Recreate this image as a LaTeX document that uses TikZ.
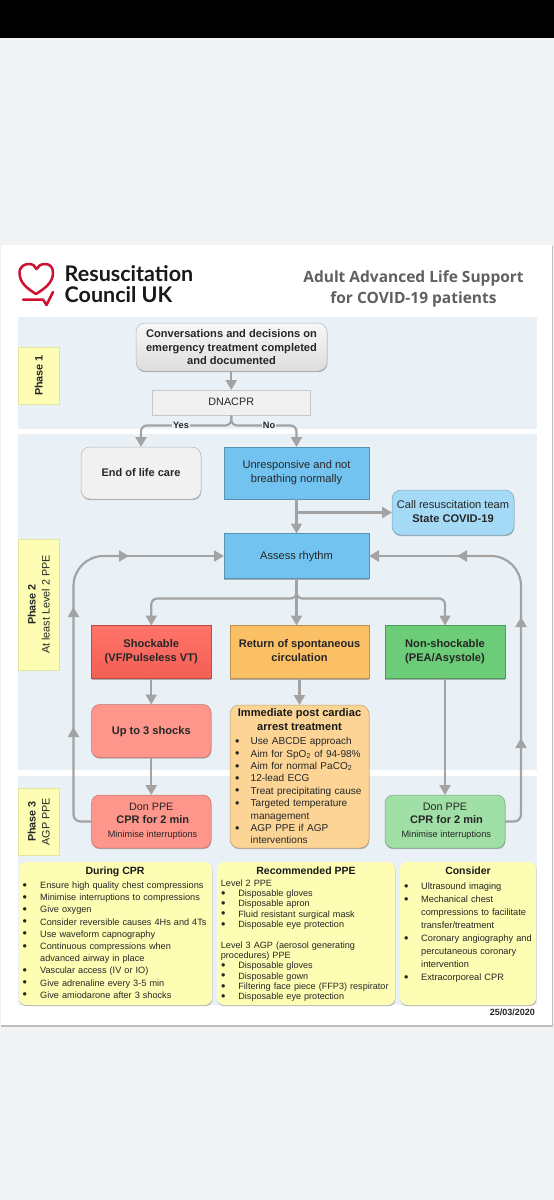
\documentclass[tikz,border=0pt]{standalone}
\usepackage{fontspec}
\setmainfont{Liberation Sans}
\newfontfamily\logofont{Lato}
\newfontfamily\titlefont{Open Sans}
\usetikzlibrary{arrows.meta,shadows,calc,positioning}
\definecolor{pagebg}{HTML}{F1F3F5}
\definecolor{bandblue}{HTML}{EAF1F6}
\definecolor{line}{HTML}{A3A3A3}
\definecolor{rcred}{HTML}{CE1130}
\definecolor{grayt}{HTML}{606060}
\definecolor{noteY}{HTML}{FDFDB4}
\definecolor{greyfill}{HTML}{F1F1F1}
\definecolor{blueA}{HTML}{72C3EF}
\definecolor{blueB}{HTML}{A5DAF7}
\definecolor{redA}{HTML}{FF6459}
\definecolor{redB}{HTML}{FF968C}
\definecolor{orA}{HTML}{FBBF66}
\definecolor{orB}{HTML}{FCD596}
\definecolor{grA}{HTML}{6CCC78}
\definecolor{grB}{HTML}{A0DFA6}
\newcommand{\ft}[1]{\fontsize{#1}{#1}\selectfont}
\newcommand{\fl}[2]{\fontsize{#1}{#2}\selectfont}
\newcommand{\bdot}{\raisebox{-0.7pt}{\fontsize{12.5}{12.5}\selectfont•}}
\newcommand{\bul}[1]{\par\hangindent=18.5pt\hangafter=1\noindent\makebox[18.5pt][l]{\hspace{3pt}\bdot}#1}
\newcommand{\bulw}[1]{\par\hangindent=20pt\hangafter=1\noindent\makebox[20pt][l]{\hspace{2.5pt}\bdot}#1}
\newcommand{\bulp}[1]{\par\hangindent=17.5pt\hangafter=1\noindent\makebox[17.5pt][l]{\hspace{0.3pt}\bdot}#1}
\tikzset{
  x=1pt,y=-1pt,
  wh/.style n args={2}{minimum width=#1pt,minimum height=#2pt},
  shad/.style={drop shadow={shadow xshift=0.4pt,shadow yshift=-1.2pt,fill=black,opacity=.28}},
  base/.style={anchor=north west,inner sep=0pt,outer sep=0pt,align=center,text=black!85},
  strutted/.style={execute at begin node={\rule{0pt}{9pt}},execute at end node={\rule[-3pt]{0pt}{3pt}}},
  sq/.style={base,strutted,shad,draw=#1!75!black,line width=.5pt},
  rnd/.style={base,strutted,shad,rounded corners=8pt,draw=#1!75!black,line width=.5pt},
  phasebox/.style={base,shad,fill=noteY,draw=noteY!90!black,line width=.4pt,rotate=90,anchor=center},
  notebox/.style={base,shad,fill=noteY,rounded corners=7pt,align=left},
  flow/.style={draw=line,line width=2.2pt,rounded corners=6pt},
  arr/.style={flow,-{Triangle[length=10pt,width=11pt]}},
  bigarc/.style={flow,rounded corners=30pt},
  tinylbl/.style={inner sep=0.6pt,fill=bandblue,font=\ft{9.2}\bfseries,text=black!85},
}
\begin{document}
\begin{tikzpicture}
\useasboundingbox (0,0) rectangle (554,1200);
\fill[pagebg] (0,0) rectangle (554,1200);
\fill[black] (0,0) rectangle (554,38);
\fill[black!25] (1,246) rectangle (553,1027);
\fill[white] (1,245) rectangle (552,1025);
% bands
\fill[bandblue] (17.5,317) rectangle (536.5,429);
\fill[bandblue] (17.5,434) rectangle (536.5,770);
\fill[bandblue] (17.5,776) rectangle (536.5,1005);
% logo
\draw[rcred,line width=2.5pt,line join=round,line cap=round]
  (36,294) .. controls (28,289) and (19.5,283) .. (19.5,273)
  .. controls (19.5,266) and (25,264) .. (29,264)
  .. controls (33,264) and (35,266) .. (36.5,269)
  .. controls (38,266) and (41,264) .. (45,264)
  .. controls (50,264) and (53,267) .. (53,273)
  .. controls (53,283) and (44,289) .. (36,294);
\draw[rcred,line width=2.5pt,line cap=round,line join=round]
  (23,299.5) -- (43,299.5) -- (46.5,305) -- (53,292);
\node[anchor=base west,inner sep=0pt,text=black!90] (logoa) at (64.5,281.5) {\logofont\ft{21.5}\bfseries Resuscitation};
\node[anchor=base west,inner sep=0pt,text=black!90] (logob) at (64.5,302.5) {\logofont\ft{21.5}\bfseries Council UK};
\node[anchor=base,inner sep=0pt,text=grayt] (titlea) at (413.5,282) {\titlefont\ft{15.5}\bfseries Adult Advanced Life Support};
\node[anchor=base,inner sep=0pt,text=grayt] (titleb) at (413.5,303) {\titlefont\ft{15.5}\bfseries for COVID-19 patients};
% phase tags
\node[phasebox,wh={57}{40.5},font=\ft{10.8}\bfseries] (ph1) at (38.7,375.5) {Phase 1};
\node[phasebox,wh={131}{40.5},font=\fl{10.8}{14}] (ph2) at (38.7,604.5) {\textbf{Phase 2}\\At least Level 2 PPE};
\node[phasebox,wh={67}{40.5},font=\fl{10.8}{14}] (ph3) at (38.7,821.5) {\textbf{Phase 3}\\AGP PPE};
% nodes
\node[rnd=greyfill,top color=white!97!black,bottom color=greyfill!92!black,wh={191}{48},rounded corners=9pt,font=\fl{11.1}{13.4}\bfseries] (conv) at (136,323) {\rule{0pt}{11pt}Conversations and decisions on\\emergency treatment completed\\and documented};
\node[base,strutted,fill=greyfill,draw=black!22,line width=.5pt,wh={158.5}{25.5},font=\ft{10.8}] (dna) at (152,390) {DNACPR};
\node[rnd=greyfill,fill=greyfill,wh={120}{52},rounded corners=9pt,font=\ft{11}\bfseries] (eol) at (81,447) {End of life care};
\node[sq=blueA,fill=blueA,wh={145}{52},font=\fl{11.1}{14}] (unr) at (224,447) {Unresponsive and not\\breathing normally};
\node[rnd=blueB,fill=blueB,wh={122}{45},rounded corners=9pt,font=\fl{11.1}{14}] (call) at (392,490) {Call resuscitation team\\\textbf{State COVID-19}};
\node[sq=blueA,fill=blueA,wh={145}{45},font=\ft{11.1}] (rhy) at (224,533.5) {Assess rhythm};
\node[sq=redA,top color=redA!90!white,bottom color=redA!95!black,wh={119.5}{53},font=\fl{11.1}{14}\bfseries] (shk) at (91.5,625.5) {Shockable\\(VF/Pulseless VT)};
\node[sq=orA,fill=orA,wh={139}{53},font=\fl{11.1}{14}\bfseries] (rosc) at (230,625.5) {Return of spontaneous\\circulation};
\node[sq=grA,fill=grA,wh={120}{53},font=\fl{11.1}{14}\bfseries] (nons) at (385,625.5) {Non-shockable\\(PEA/Asystole)};
\node[rnd=redB,fill=redB,wh={119.5}{53},font=\ft{11.1}\bfseries] (up3) at (91.5,704.5) {Up to 3 shocks};
\node[rnd=orB,fill=orB,wh={139}{143},rounded corners=9pt,inner sep=0pt] (post) at (230,705) {};
\node[anchor=north,inner sep=0pt,align=center,text=black!90,font=\fl{11.1}{13.4}\bfseries] (posthead) at (299.5,708.5) {Immediate post cardiac\\arrest treatment};
\node[anchor=north west,inner sep=0pt,text width=136pt,align=left,text=black!85,font=\fl{10.05}{12.4}] (postlist) at (232,732) {%
\bul{Use ABCDE approach}\bul{Aim for SpO\textsubscript{2} of 94-98\%}\bul{Aim for normal PaCO\textsubscript{2}}\bul{12-lead ECG}\bul{Treat precipitating cause}\bul{Targeted temperature\newline management}\bul{AGP PPE if AGP\newline interventions}\par};
\node[rnd=redB,fill=redB,wh={119.5}{53},font=\fl{10.8}{13.6}] (don1) at (91.5,795) {Don PPE\\{\bfseries\ft{11} CPR for 2 min}\\{\ft{9.2} Minimise interruptions}};
\node[rnd=grB,fill=grB,wh={120}{53},font=\fl{10.8}{13.6}] (don2) at (385,795) {Don PPE\\{\bfseries\ft{11} CPR for 2 min}\\{\ft{9.2} Minimise interruptions}};
% notes
\node[notebox,wh={193}{143}] (n1) at (19,862) {};
\node[notebox,wh={178}{143}] (n2) at (217,862) {};
\node[notebox,wh={136}{143}] (n3) at (400,862) {};
\node[anchor=north,inner sep=0pt,font=\ft{10.5}\bfseries,text=black!90] (n1h) at (115,867) {During CPR};
\node[anchor=north,inner sep=0pt,font=\ft{10.5}\bfseries,text=black!90] (n2h) at (306,867) {Recommended PPE};
\node[anchor=north,inner sep=0pt,font=\ft{10.5}\bfseries,text=black!90] (n3h) at (468,867) {Consider};
\node[anchor=north west,inner sep=0pt,text width=195pt,align=left,text=black!85,font=\fl{9.15}{12.2}] (n1t) at (20,876) {%
\bulw{Ensure high quality chest compressions}\bulw{Minimise interruptions to compressions}\bulw{Give oxygen}\bulw{Consider reversible causes 4Hs and 4Ts}\bulw{Use waveform capnography}\bulw{Continuous compressions when\newline advanced airway in place}\bulw{Vascular access (IV or IO)}\bulw{Give adrenaline every 3-5 min}\bulw{Give amiodarone after 3 shocks}\par};
\node[anchor=north west,inner sep=0pt,text width=176pt,align=left,text=black!85,font=\fl{9.1}{10.3}] (n2t) at (220.7,879.5) {%
\noindent Level 2 PPE\bulp{Disposable gloves}\bulp{Disposable apron}\bulp{Fluid resistant surgical mask}\bulp{Disposable eye protection}\par\vspace{10.3pt}\noindent Level 3 AGP (aerosol generating\newline procedures) PPE\bulp{Disposable gloves}\bulp{Disposable gown}\bulp{Filtering face piece (FFP3) respirator}\bulp{Disposable eye protection}\par};
\node[anchor=north west,inner sep=0pt,text width=135pt,align=left,text=black!85,font=\fl{9.25}{13}] (n3t) at (403.5,876.5) {%
\bulp{Ultrasound imaging}\bulp{Mechanical chest\newline compressions to facilitate\newline transfer/treatment}\bulp{Coronary angiography and\newline percutaneous coronary\newline intervention}\bulp{Extracorporeal CPR}\par};
\node[anchor=base east,inner sep=0pt,font=\ft{9}\bfseries,text=black!85] (date) at (535,1015.5) {25/03/2020};
% connectors
\coordinate (split) at (dna.south);
\coordinate (yesT) at (eol.north);
\coordinate (noT) at (unr.north);
\draw[arr] (conv.south -| dna.north) -- (dna.north);
\draw[arr] (split) -- ++(0,10) -| (yesT);
\draw[arr] (split) -- ++(0,10) -| (noT);
\node[tinylbl] (yes) at (181,425.5) {Yes};
\node[tinylbl] (no) at (269,425.5) {No};
\draw[arr] (unr.south) -- (rhy.north);
\draw[arr] (unr.south |- call.west) -- (call.west);
\draw[arr] (rhy.south) -- ++(0,20) -| (shk.north);
\draw[arr] (rhy.south) -- ++(0,20) -| (nons.north);
\draw[arr] (rhy.south) -- (rhy.south |- rosc.north);
\draw[arr] (shk.south) -- (up3.north);
\draw[arr] (rosc.south) -- (post.north);
\draw[arr] (up3.south) -- (don1.north);
\draw[arr] (nons.south) -- (don2.north);
% return loops
\coordinate (lup1) at (73.5,727);
\coordinate (lup2) at (73.5,607);
\coordinate (lright) at (129,556);
\coordinate (rup1) at (521,738);
\coordinate (rup2) at (521,617);
\coordinate (rleft) at (457,556);
\draw[flow,rounded corners=7pt] (don1.west) -- (73.5,821.5) -- (lup2);
\draw[bigarc] (lup2) -- (73.5,556) -- (lright);
\draw[arr] (lright) -- (rhy.west);
\draw[arr] (73.5,737) -- (lup1);
\draw[arr] (73.5,617) -- (lup2);
\draw[arr] (119,556) -- (lright);
\draw[flow,rounded corners=7pt] (don2.east) -- (521,821.5) -- (rup2);
\draw[bigarc] (rup2) -- (521,556) -- (rleft);
\draw[arr] (rleft) -- (rhy.east);
\draw[arr] (521,748) -- (rup1);
\draw[arr] (521,627) -- (rup2);
\draw[arr] (467,556) -- (rleft);
\end{tikzpicture}
\end{document}
